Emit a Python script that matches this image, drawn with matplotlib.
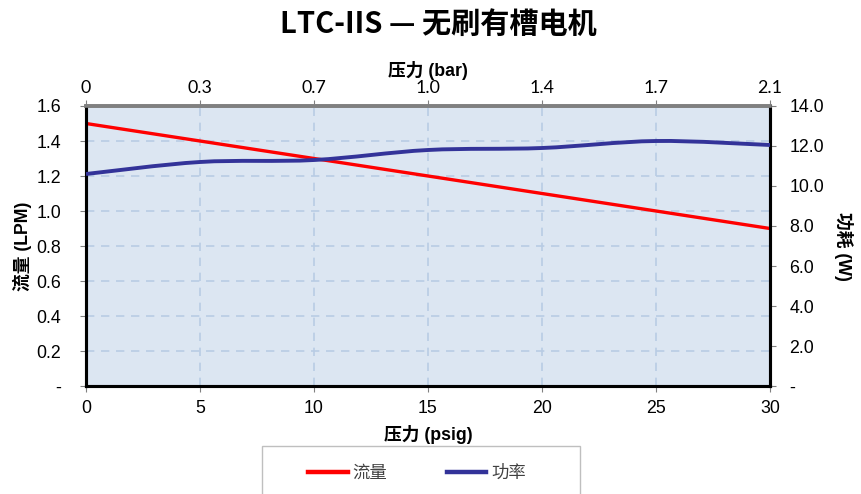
import matplotlib
matplotlib.use("Agg")
import matplotlib.pyplot as plt
import matplotlib.patches as mpatches
from matplotlib.path import Path
from matplotlib.lines import Line2D

# ==========================
# DATA
# ==========================

psig = [0, 5, 10, 15, 20, 25, 30]
bar_labels = ["0", "0.3", "0.7", "1.0", "1.4", "1.7", "2.1"]
flow_lpm = [1.5, 1.4, 1.3, 1.2, 1.1, 1.0, 0.9]
power_w = [10.6, 11.2, 11.3, 11.8, 11.9, 12.25, 12.05]

left_ticks = [0, 0.2, 0.4, 0.6, 0.8, 1.0, 1.2, 1.4, 1.6]
right_ticks = [0, 2, 4, 6, 8, 10, 12, 14]

CJK = ["Liberation Sans", "Noto Sans CJK SC", "DejaVu Sans"]
plt.rcParams["font.family"] = CJK

TICK_FS = 12.8
LABEL_FS = 12.8


def smooth_path(xs, ys):
    # catmull-rom style bezier through the data points
    verts = [(xs[0], ys[0])]
    codes = [Path.MOVETO]
    n = len(xs)
    for i in range(n - 1):
        a = i - 1 if i > 0 else i
        d = i + 2 if i + 2 < n else i + 1
        c1 = (xs[i] + (xs[i + 1] - xs[a]) / 6, ys[i] + (ys[i + 1] - ys[a]) / 6)
        c2 = (xs[i + 1] - (xs[d] - xs[i]) / 6, ys[i + 1] - (ys[d] - ys[i]) / 6)
        verts += [c1, c2, (xs[i + 1], ys[i + 1])]
        codes += [Path.CURVE4] * 3
    return Path(verts, codes)


# ==========================
# FIGURE
# ==========================

fig = plt.figure(figsize=(8.62, 4.94), dpi=100)
ax = fig.add_axes([86 / 862, 1 - 386 / 494, 684 / 862, 280 / 494])
ax.set_facecolor("#dce6f2")

red = "#ff0000"
blue = "#333399"

ax.plot(psig, flow_lpm, color=red, linewidth=2.4, zorder=3)

ax.set_xlim(0, 30)
ax.set_ylim(0, 1.6)
ax.set_xticks(psig)
ax.set_xticklabels([str(v) for v in psig], fontsize=TICK_FS)
ax.set_yticks(left_ticks)
ax.set_yticklabels(["-"] + [f"{v:.1f}" for v in left_ticks[1:]], fontsize=TICK_FS)
ax.grid(True, color="#b8cce4", linestyle=(0, (5, 4)), linewidth=1.2)
ax.set_axisbelow(True)
ax.tick_params(axis="x", colors="#808080", labelcolor="black", length=4, pad=6)
ax.tick_params(axis="y", colors="#808080", labelcolor="black", length=4, pad=14)

for side in ["left", "bottom", "right"]:
    ax.spines[side].set_color("black")
    ax.spines[side].set_linewidth(2.2)
ax.spines["top"].set_color("#808080")
ax.spines["top"].set_linewidth(2.6)

ax.set_xlabel("压力 (psig)", fontsize=LABEL_FS, fontweight="bold", labelpad=6)
ax.set_ylabel("流量 (LPM)", fontsize=LABEL_FS, fontweight="bold", labelpad=3)

# right axis - power
ax2 = ax.twinx()
ax2.set_ylim(0, 14)
ax2.set_yticks(right_ticks)
ax2.set_yticklabels(["-"] + [f"{v:.1f}" for v in right_ticks[1:]], fontsize=TICK_FS)
ax2.tick_params(axis="y", colors="#808080", labelcolor="black", length=4, pad=10)
for side in ["left", "bottom", "right"]:
    ax2.spines[side].set_color("black")
    ax2.spines[side].set_linewidth(2.2)
ax2.spines["top"].set_color("#808080")
ax2.spines["top"].set_linewidth(2.6)
ax2.add_patch(mpatches.PathPatch(smooth_path(psig, power_w), fill=False,
                                 edgecolor=blue, linewidth=2.8, zorder=4))
ax2.set_ylabel("功耗 (W)", fontsize=LABEL_FS, fontweight="bold", rotation=-90, labelpad=21)

# top axis - bar
top = ax.secondary_xaxis("top")
top.set_xticks(psig)
top.set_xticklabels(bar_labels, fontsize=TICK_FS, family="Lato")
top.tick_params(colors="#808080", labelcolor="black", length=4, pad=3)
top.set_xlabel("压力 (bar)", fontsize=LABEL_FS, fontweight="bold", labelpad=3)

# title
fig.text(0.508, 0.952, "LTC-IIS — 无刷有槽电机", ha="center", va="center",
         fontsize=21, fontweight="bold", family=["Noto Sans CJK SC", "DejaVu Sans"])

# legend
fig.patches.append(mpatches.Rectangle((262 / 862, -0.05), 318 / 862, 0.05 + 48 / 494,
                                      transform=fig.transFigure, facecolor="white",
                                      edgecolor="#bfbfbf", linewidth=1))
handles = [Line2D([], [], color=red, linewidth=3.2),
           Line2D([], [], color=blue, linewidth=3.2)]
leg = fig.legend(handles, ["流量", "功率"], loc="center", ncol=2,
                 bbox_to_anchor=(417 / 862, 1 - 473 / 494), frameon=False,
                 handlelength=2.3, handletextpad=0.3, columnspacing=3.4,
                 prop={"family": ["Noto Sans CJK SC", "DejaVu Sans"], "size": 12.5})
for t in leg.get_texts():
    t.set_color("#404040")

fig.savefig("out.png", dpi=100)
